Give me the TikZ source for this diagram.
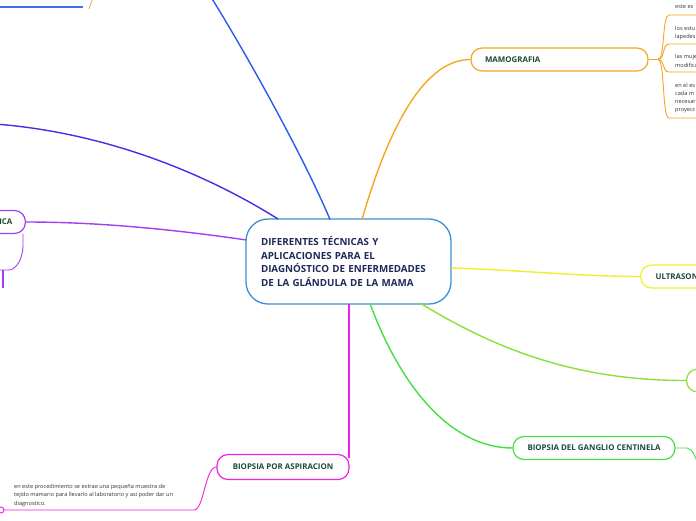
\documentclass[tikz,border=0pt]{standalone}
\usepackage{fontspec}
\setmainfont{Open Sans}
\definecolor{cblue}{HTML}{3A8FD6}
\definecolor{ctext}{HTML}{1E2A5A}
\definecolor{ntext}{HTML}{1B4A3A}
\definecolor{stext}{HTML}{333333}
\definecolor{lblue}{HTML}{2B5CEB}
\definecolor{lindigo}{HTML}{4A2BE6}
\definecolor{ltblue}{HTML}{3E6FF2}
\definecolor{lorange}{HTML}{F5A623}
\definecolor{lpeach}{HTML}{F0A070}
\definecolor{lpurple}{HTML}{A040F0}
\definecolor{lyellow}{HTML}{ECF22A}
\definecolor{llgreen}{HTML}{8CE03C}
\definecolor{lgreen}{HTML}{44E044}
\definecolor{lmagenta}{HTML}{F020E0}
\begin{document}
\begin{tikzpicture}[x=1pt,y=-1pt,
  conn/.style={line width=1.4pt},
  subc/.style={line width=0.9pt},
  pill/.style={draw, rounded corners=11pt, line width=1.2pt, minimum height=23pt, inner ysep=0pt,
    font=\fontsize{7.9}{9}\selectfont\bfseries, text=ntext},
  small/.style={font=\fontsize{5.6}{8.7}\selectfont, text=stext, inner sep=0pt, anchor=west, align=left}]
\clip (0,0) rectangle (696,520);
\fill[white] (0,0) rectangle (696,520);

% central node
\node[draw=cblue, line width=1.3pt, rounded corners=22pt, text width=175pt, align=left,
  inner xsep=15pt, minimum width=205pt, minimum height=85pt,
  font=\fontsize{9.8}{13.4}\selectfont\bfseries, text=ctext] (c) at (348.5,261.5)
  {DIFERENTES TÉCNICAS Y\\APLICACIONES PARA EL\\DIAGNÓSTICO DE ENFERMEDADES\\DE LA GLÁNDULA DE LA MAMA};

% attachment points on central node
\coordinate (cBlue) at (330,219.5);
\coordinate (cIndigo) at (278,219);
\coordinate (cOrange) at (362,219.5);
\coordinate (cPurple) at (246.5,240);
\coordinate (cYellow) at (451,268);
\coordinate (cLGreen) at (420,303);
\coordinate (cGreen) at (370,303.5);
\coordinate (cMagenta) at (349,304);

% off-canvas ends
\coordinate (offBlue) at (211,-3);
\coordinate (offIndigo) at (-5,124);

% main nodes
\node[pill, draw=lorange, text width=149pt, align=left, inner xsep=14pt] (mamo) at (559.5,59.5) {MAMOGRAFIA};
\node[pill, draw=lyellow, text width=150pt, align=left, inner xsep=15pt, anchor=west] (ultra) at (640,276.5) {ULTRASONIDO};
\node[pill, draw=llgreen, minimum width=100pt, anchor=west] (lg) at (686,380.5) {};
\node[pill, draw=lgreen, minimum width=162pt] (gang) at (594,448) {BIOPSIA DEL GANGLIO CENTINELA};
\node[pill, draw=lmagenta, minimum width=132pt, minimum height=25pt] (asp) at (283,467) {BIOPSIA POR ASPIRACION};
\node[pill, draw=lpurple, minimum width=120pt, anchor=east, text width=100pt, align=right, inner xsep=13pt] (purp) at (26,222) {ICA};

% main connectors
\draw[conn, lblue] (cBlue) .. controls (305,160) and (250,60) .. (offBlue);
\draw[conn, lindigo] (cIndigo) .. controls (200,170) and (100,132) .. (offIndigo);
\draw[conn, lorange] (cOrange) .. controls (385,140) and (420,59.5) .. (mamo.west);
\draw[conn, lpurple] (cPurple) .. controls (150,226) and (80,222) .. (purp.east);
\draw[conn, lyellow] (cYellow) .. controls (520,270) and (580,276.5) .. (ultra.west);
\draw[conn, llgreen] (cLGreen) .. controls (500,352) and (580,380.5) .. (lg.west);
\draw[conn, lgreen] (cGreen) .. controls (400,385) and (450,448) .. (gang.west);
\coordinate (aspIn) at (349,458);
\draw[conn, lmagenta] (cMagenta) -- (aspIn);

% mamografia subtopics
\coordinate (mb) at (658,59.5);
\draw[subc, lorange] (mamo.east) -- (mb);
\foreach \uy/\n in {15/a,44/b,72/d,118/e}{
  \coordinate (u\n) at (669,\uy);
  \coordinate (ue\n) at (700,\uy);
  \draw[subc, lorange] (mb) .. controls (665,59.5) and (662,\uy) .. (u\n) -- (ue\n);
}
\node[small] (t1) at (675,7) {este es};
\node[small] (t2) at (675,28) {los estu};
\node[small] (t3) at (675,37) {lapedes};
\node[small] (t4) at (675,57) {las muje};
\node[small] (t5) at (675,65) {modifica};
\node[small] (t6) at (675,85) {en el es};
\node[small] (t7) at (675,93) {cada m};
\node[small] (t8) at (675,102) {necesar};
\node[small] (t9) at (675,111) {proyecc};

% ganglio right connector
\coordinate (gb) at (687,448);
\coordinate (gOff) at (702,472);
\draw[subc, lgreen] (gang.east) -- (gb) .. controls (693,448) and (695,458) .. (gOff);

% aspiracion subtopic
\coordinate (aspU) at (194,510);
\coordinate (aspUend) at (4,510);
\draw[subc, lmagenta] (asp.west) .. controls (205,467) and (204,510) .. (aspU) -- (aspUend);
\draw[subc, lmagenta] (1,510) circle (3);
\node[small] (adesc) at (14,495.5) {en este procedimiento se extrae una pequeña muestra de\\tejido mamario para llevarlo al laboratorio y asi poder dar un\\diagnostico.};

% purple subtopic fragments
\coordinate (pb) at (23,245);
\coordinate (pu) at (9,270);
\coordinate (pu0) at (-2,270);
\draw[subc, lpurple] (23,233.5) -- (pb) .. controls (23,262) and (14,270) .. (pu) -- (pu0);
\draw[line width=1.2pt, lpurple] (3,270) -- (3,288);

% top-left fragments
\coordinate (tl0) at (-2,7);
\coordinate (tl1) at (83,7);
\draw[conn, ltblue] (tl0) -- (tl1);
\coordinate (or0) at (89,9);
\coordinate (or1) at (92.5,-1);
\draw[line width=0.8pt, lpeach] (or0) -- (or1);
\end{tikzpicture}
\end{document}
